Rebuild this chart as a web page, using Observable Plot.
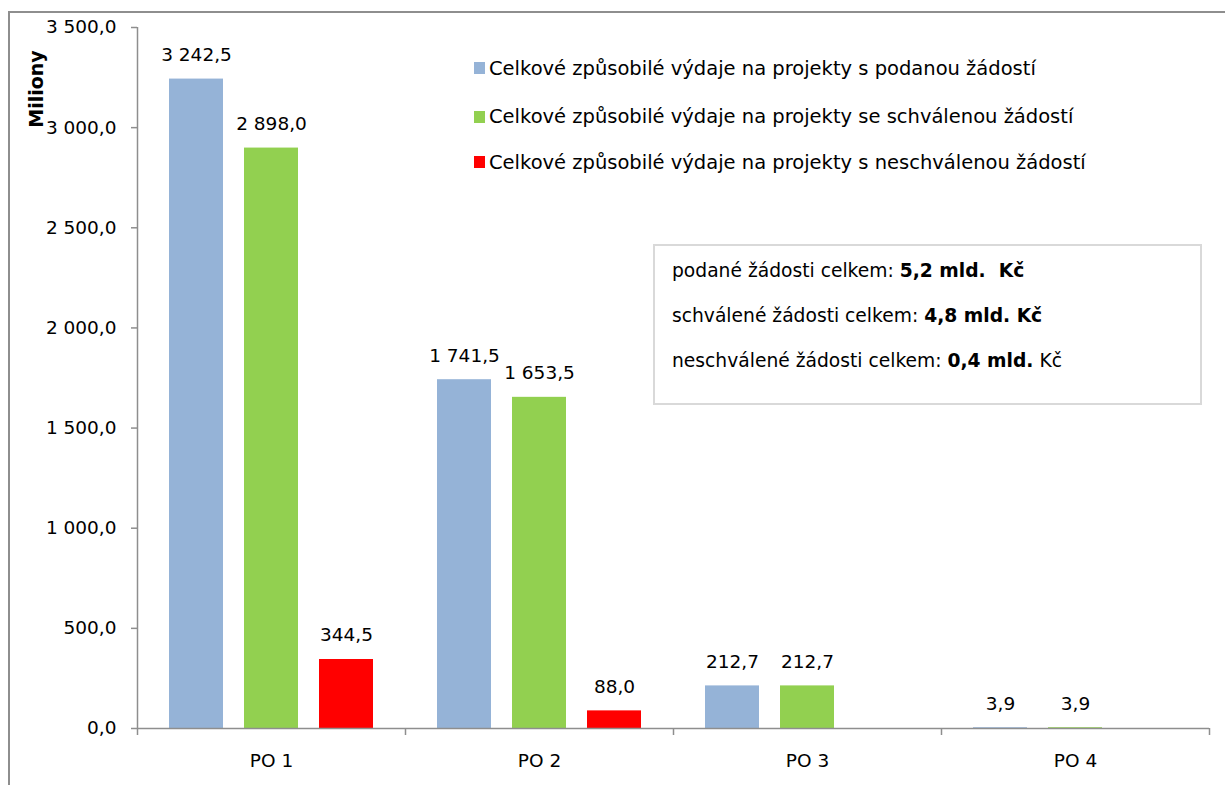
<!DOCTYPE html>
<html><head><meta charset="utf-8">
<script src="https://cdn.jsdelivr.net/npm/d3@7"></script>
<script src="https://cdn.jsdelivr.net/npm/@observablehq/plot@0.6"></script>
<style>
html,body{margin:0;padding:0;background:#fff;overflow:hidden}
#wrap{position:relative;width:1225px;height:785px;font-family:"DejaVu Sans",sans-serif;color:#000;overflow:hidden}
#outer{position:absolute;left:8px;top:11px;width:1260px;height:820px;border:2px solid #8e8e8e;box-sizing:border-box;pointer-events:none}
#ytitle{position:absolute;left:36px;top:89px;transform:translate(-50%,-50%) rotate(-90deg);font-weight:bold;font-size:19px;white-space:nowrap}
.leg{position:absolute;left:474px;height:26px;display:flex;align-items:center;font-size:19.5px;white-space:nowrap}
.sw{width:11px;height:12px;margin-right:4px;flex:none}
#box{position:absolute;left:653px;top:244px;width:549px;height:161px;border:2px solid #d9d9d9;box-sizing:border-box;background:#fff}
.bl{position:absolute;left:17px;height:26px;line-height:26px;font-size:18.7px;white-space:pre}
</style></head><body><div id="wrap"></div>
<script>
// ---- data ----
const categories = ["PO 1", "PO 2", "PO 3", "PO 4"];
const seriesNames = [
  "Celkové způsobilé výdaje na projekty s podanou žádostí",
  "Celkové způsobilé výdaje na projekty se schválenou žádostí",
  "Celkové způsobilé výdaje na projekty s neschválenou žádostí"
];
const podane = [3242.5, 1741.5, 212.7, 3.9];
const schvalene = [2898.0, 1653.5, 212.7, 3.9];
const neschvalene = [344.5, 88.0, null, null];
const yTicks = [0, 500, 1000, 1500, 2000, 2500, 3000, 3500];
const yTitle = "Miliony";
const summaryLabels = ["podané žádosti celkem: ", "schválené žádosti celkem: ", "neschválené žádosti celkem: "];
const summaryValues = ["5,2 mld.  Kč", "4,8 mld. Kč", "0,4 mld."];
const summaryTails = ["", "", " Kč"];

// ---- styles ----
const colors = ["#95B3D7", "#92D050", "#FF0000"];
const BAR_STEP = 75 / 268, BAR_W = 54 / 268;

const seriesValues = [podane, schvalene, neschvalene];
const rows = [];
seriesValues.forEach((vals, s) => vals.forEach((v, c) => {
  if (v != null) rows.push({category: categories[c], c, series: seriesNames[s], s, value: v});
}));
const center = d => d.c + 0.5 + (d.s - 1) * BAR_STEP;

const fmt = d3.formatLocale({decimal: ",", thousands: " ", grouping: [3]}).format(",.1f");

const chart = Plot.plot({
  width: 1225, height: 785,
  marginLeft: 137, marginRight: 16, marginTop: 27, marginBottom: 57,
  style: {fontFamily: "DejaVu Sans, sans-serif", fontSize: "18.5px", color: "#000", background: "transparent", overflow: "visible"},
  x: {domain: [0, categories.length]},
  y: {domain: [0, 3500]},
  color: {domain: seriesNames, range: colors},
  marks: [
    Plot.rectY(rows, {x1: d => center(d) - BAR_W / 2, x2: d => center(d) + BAR_W / 2, y1: 0, y2: "value", fill: "series"}),
    Plot.text(rows, {x: center, y: "value", text: d => fmt(d.value), dy: -24, fill: "#000"}),
    Plot.ruleX([0], {stroke: "#8e8e8e", strokeWidth: 1.5}),
    Plot.ruleY([0], {stroke: "#8e8e8e", strokeWidth: 1.5}),
    Plot.axisY({ticks: yTicks, tickSize: 6, tickPadding: 15, tickFormat: fmt, stroke: "#8e8e8e", strokeWidth: 1.5, fill: "#000", label: null}),
    Plot.axisX({ticks: d3.range(categories.length + 1), tickSize: 7, tickFormat: () => "", stroke: "#8e8e8e", strokeWidth: 1.5, label: null}),
    Plot.axisX({ticks: categories.map((_, i) => i + 0.5), tickSize: 0, tickPadding: 25, tickFormat: v => categories[Math.floor(v)], fill: "#000", label: null})
  ]
});

const wrap = document.getElementById("wrap");
wrap.appendChild(chart);

const outer = document.createElement("div");
outer.id = "outer";
wrap.appendChild(outer);

const yt = document.createElement("div");
yt.id = "ytitle";
yt.textContent = yTitle;
wrap.appendChild(yt);

// legend
const legTops = [68, 116.5, 162];
seriesNames.forEach((name, i) => {
  const row = document.createElement("div");
  row.className = "leg";
  row.style.top = (legTops[i] - 13) + "px";
  const sw = document.createElement("span");
  sw.className = "sw";
  sw.style.background = colors[i];
  row.appendChild(sw);
  row.appendChild(document.createTextNode(name));
  wrap.appendChild(row);
});

// summary box
const box = document.createElement("div");
box.id = "box";
const lineTops = [27, 72, 117];
summaryLabels.forEach((lab, i) => {
  const l = document.createElement("div");
  l.className = "bl";
  l.style.top = (lineTops[i] - 2 - 13) + "px";
  l.appendChild(document.createTextNode(lab));
  const b = document.createElement("b");
  b.textContent = summaryValues[i];
  l.appendChild(b);
  if (summaryTails[i]) l.appendChild(document.createTextNode(summaryTails[i]));
  box.appendChild(l);
});
wrap.appendChild(box);
</script>
</body></html>
